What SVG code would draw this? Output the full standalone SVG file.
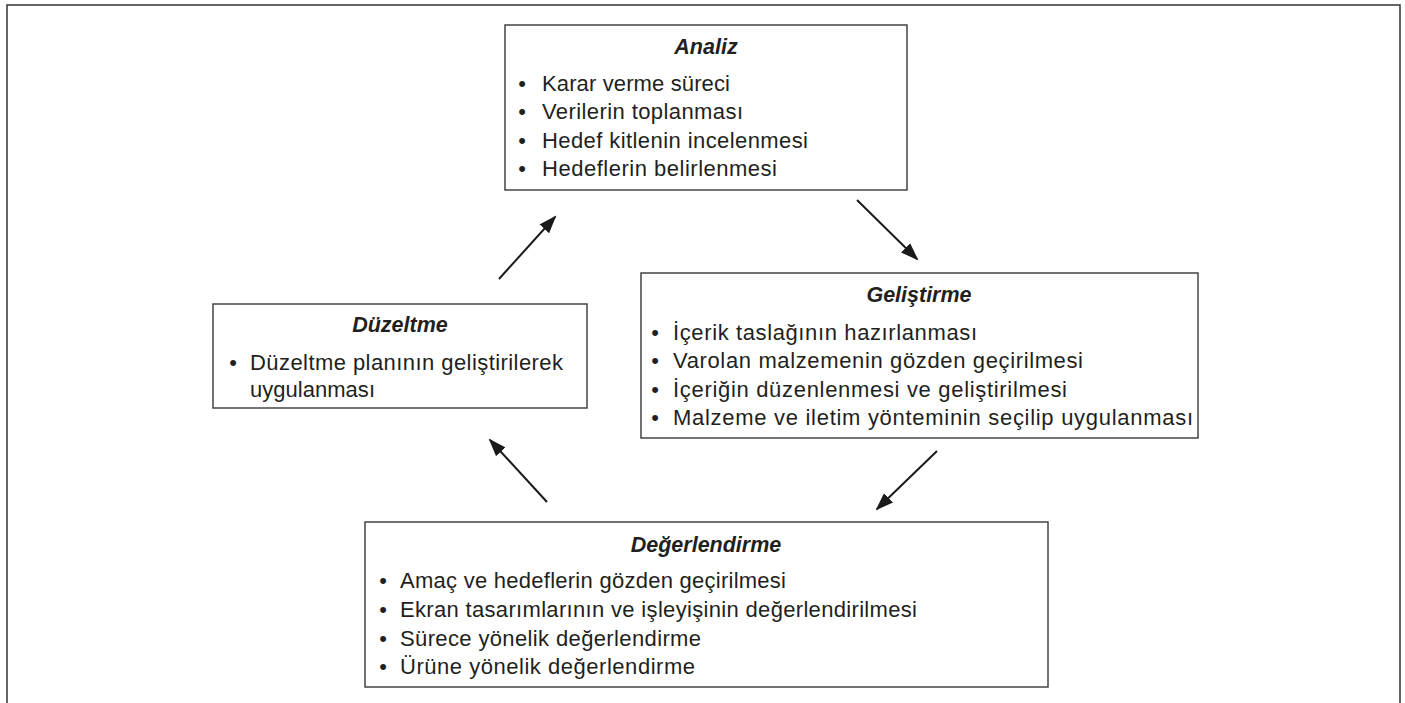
<svg xmlns="http://www.w3.org/2000/svg" width="1405" height="703" viewBox="0 0 1405 703">
  <style>
    .frame { fill: none; stroke: #333; stroke-width: 1.5; }
    .box { fill: #fff; stroke: #444; stroke-width: 1.5; }
    .title { font-family: "Liberation Sans", Arial, sans-serif; font-size: 21.5px; font-weight: bold; font-style: italic; fill: #231f20; text-anchor: middle; }
    .item { font-family: "Liberation Sans", Arial, sans-serif; font-size: 22px; fill: #231f20; }
    .bul { font-family: "Liberation Sans", Arial, sans-serif; font-size: 22px; fill: #231f20; text-anchor: middle; }
    .conn { stroke: #1a1a1a; stroke-width: 2; fill: none; marker-end: url(#arrow); }
  </style>
  <defs>
    <marker id="arrow" markerUnits="userSpaceOnUse" markerWidth="20" markerHeight="14" refX="16" refY="6.5" orient="auto">
      <path d="M0,0 L18,6.5 L0,13 Z" fill="#1a1a1a"/>
    </marker>
  </defs>
  <rect x="0" y="0" width="1405" height="703" fill="#fff"/>
  <path class="frame" d="M7,703 V5 H1400 V703"/>

  <g id="connectors">
    <line class="conn" x1="857" y1="200" x2="917" y2="259"/>
    <line class="conn" x1="937" y1="451" x2="877" y2="509"/>
    <line class="conn" x1="547" y1="502" x2="490" y2="440"/>
    <line class="conn" x1="499" y1="279" x2="555" y2="217"/>
  </g>

  <g id="analiz">
    <rect class="box" x="505" y="25" width="402" height="165"/>
    <text class="title" x="706" y="54">Analiz</text>
    <text class="bul" x="522" y="91">•</text>
    <text class="item" x="542" y="91" textLength="188" lengthAdjust="spacing">Karar verme süreci</text>
    <text class="bul" x="522" y="119">•</text>
    <text class="item" x="542" y="119" textLength="201" lengthAdjust="spacing">Verilerin toplanması</text>
    <text class="bul" x="522" y="148">•</text>
    <text class="item" x="542" y="148" textLength="266" lengthAdjust="spacing">Hedef kitlenin incelenmesi</text>
    <text class="bul" x="522" y="176">•</text>
    <text class="item" x="542" y="176" textLength="235" lengthAdjust="spacing">Hedeflerin belirlenmesi</text>
  </g>

  <g id="gelistirme">
    <rect class="box" x="641" y="273" width="557" height="165"/>
    <text class="title" x="919" y="302">Geliştirme</text>
    <text class="bul" x="655" y="340">•</text>
    <text class="item" x="673" y="340" textLength="304" lengthAdjust="spacing">İçerik taslağının hazırlanması</text>
    <text class="bul" x="655" y="368">•</text>
    <text class="item" x="673" y="368" textLength="410" lengthAdjust="spacing">Varolan malzemenin gözden geçirilmesi</text>
    <text class="bul" x="655" y="397">•</text>
    <text class="item" x="673" y="397" textLength="394" lengthAdjust="spacing">İçeriğin düzenlenmesi ve geliştirilmesi</text>
    <text class="bul" x="655" y="425">•</text>
    <text class="item" x="673" y="425" textLength="520" lengthAdjust="spacing">Malzeme ve iletim yönteminin seçilip uygulanması</text>
  </g>

  <g id="duzeltme">
    <rect class="box" x="213" y="304" width="374" height="104"/>
    <text class="title" x="400" y="332">Düzeltme</text>
    <text class="bul" x="233" y="370">•</text>
    <text class="item" x="250" y="370" textLength="313" lengthAdjust="spacing">Düzeltme planının geliştirilerek</text>
    <text class="item" x="250" y="397" textLength="125" lengthAdjust="spacing">uygulanması</text>
  </g>

  <g id="degerlendirme">
    <rect class="box" x="365" y="522" width="683" height="165"/>
    <text class="title" x="706" y="552">Değerlendirme</text>
    <text class="bul" x="383" y="588">•</text>
    <text class="item" x="400" y="588" textLength="386" lengthAdjust="spacing">Amaç ve hedeflerin gözden geçirilmesi</text>
    <text class="bul" x="383" y="617">•</text>
    <text class="item" x="400" y="617" textLength="517" lengthAdjust="spacing">Ekran tasarımlarının ve işleyişinin değerlendirilmesi</text>
    <text class="bul" x="383" y="646">•</text>
    <text class="item" x="400" y="646" textLength="301" lengthAdjust="spacing">Sürece yönelik değerlendirme</text>
    <text class="bul" x="383" y="674">•</text>
    <text class="item" x="400" y="674" textLength="295" lengthAdjust="spacing">Ürüne yönelik değerlendirme</text>
  </g>
</svg>
